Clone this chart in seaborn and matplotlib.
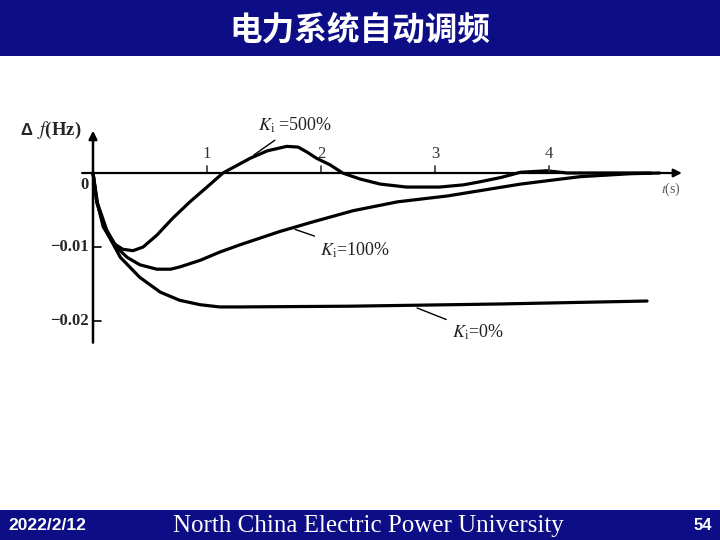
# Frequency response of power system with different integral gain Ki
import pandas as pd
import matplotlib
matplotlib.use("Agg")
import matplotlib.pyplot as plt
import seaborn as sns
from matplotlib.patches import Rectangle

# --- Data (t in s, df in Hz) ---
t_500 = [0, 0.03, 0.09, 0.18, 0.26, 0.35, 0.44, 0.56, 0.70, 0.85, 1.00, 1.14, 1.38, 1.53,
         1.70, 1.80, 1.88, 1.96, 2.08, 2.19, 2.34, 2.52, 2.75, 3.04, 3.25, 3.39, 3.58,
         3.75, 3.98, 4.16, 4.45, 4.89]
df_500 = [0, -0.0036, -0.0073, -0.0095, -0.0103, -0.0105, -0.0100, -0.0084, -0.0061,
          -0.0039, -0.0019, 0, 0.0020, 0.0030, 0.0036, 0.0035, 0.0028, 0.0020, 0.0011, 0,
          -0.0008, -0.0015, -0.0019, -0.0019, -0.0016, -0.0012, -0.0006, 0.0001, 0.0003,
          0.0000, 0, 0]

t_100 = [0, 0.04, 0.12, 0.21, 0.30, 0.41, 0.56, 0.68, 0.76, 0.94, 1.11, 1.29, 1.64, 1.93,
         2.28, 2.67, 3.11, 3.39, 3.75, 4.27, 4.71, 4.97]
df_100 = [0, -0.0041, -0.0077, -0.0101, -0.0114, -0.0124, -0.0130, -0.0130, -0.0127,
          -0.0118, -0.0107, -0.0097, -0.0079, -0.0066, -0.0051, -0.0039, -0.0031, -0.0024,
          -0.0015, -0.0005, -0.0001, 0]

t_0 = [0, 0.035, 0.12, 0.24, 0.41, 0.59, 0.76, 0.94, 1.11, 1.29, 2.25, 3.57, 4.86]
df_0 = [0, -0.0041, -0.0080, -0.0114, -0.0141, -0.0161, -0.0172, -0.0178, -0.0181,
        -0.0181, -0.0180, -0.0177, -0.0173]

x_ticks = [1, 2, 3, 4]
y_ticks = [-0.01, -0.02]
y_tick_labels = ["\u22120.01", "\u22120.02"]

curves = pd.concat([
    pd.DataFrame({"t": t_500, "df": df_500, "Ki": "500%"}),
    pd.DataFrame({"t": t_100, "df": df_100, "Ki": "100%"}),
    pd.DataFrame({"t": t_0, "df": df_0, "Ki": "0%"}),
])

sns.set_theme(style="white")
plt.rcParams["font.family"] = ["Liberation Serif", "DejaVu Sans"]
plt.rcParams["mathtext.fontset"] = "stix"

fig = plt.figure(figsize=(7.2, 5.4), dpi=100)
navy = "#0d0d86"
fig.patches.append(Rectangle((0, 1 - 56 / 540), 1, 56 / 540, transform=fig.transFigure,
                             facecolor=navy, edgecolor="none", zorder=0))
fig.patches.append(Rectangle((0, 0), 1, 30 / 540, transform=fig.transFigure,
                             facecolor=navy, edgecolor="none", zorder=0))

fig.text(0.5, 1 - 30 / 540, "电力系统自动调频", color="white", ha="center", va="center",
         fontsize=23.5, fontweight="bold", family=["Noto Sans CJK SC", "DejaVu Sans"])
fig.text(8 / 720, 14 / 540, "2022/2/12", color="white", ha="left", va="center",
         fontsize=12.5, fontweight="bold", family=["Liberation Sans Narrow", "Liberation Sans"])
fig.text(368 / 720, 14 / 540, "North China Electric Power University", color="white",
         ha="center", va="center", fontsize=18, family="Liberation Serif")
fig.text(712 / 720, 14 / 540, "54", color="white", ha="right", va="center",
         fontsize=12, fontweight="bold", family="Liberation Sans")

# axes mapped so that t=0 -> x=93px, 1 s = 114px, df=0 -> y=173px, 0.01 Hz = 74px
x0, xs, y0, ys = 93, 114, 173, 7400
xlim = (-0.2, 5.2)
ylim = (-0.0235, 0.0065)
left = x0 + xlim[0] * xs
right = x0 + xlim[1] * xs
top = y0 - ylim[1] * ys
bottom = y0 - ylim[0] * ys
ax = fig.add_axes([left / 720, 1 - bottom / 540, (right - left) / 720, (bottom - top) / 540])
ax.set_xlim(xlim)
ax.set_ylim(ylim)
ax.axis("off")

sns.lineplot(data=curves, x="t", y="df", units="Ki", estimator=None, color="black",
             linewidth=2.3, ax=ax, legend=False, solid_joinstyle="round",
             solid_capstyle="round")

# coordinate axes with arrows
ax.annotate("", xy=(5.19, 0), xytext=(-0.12, 0),
            arrowprops=dict(arrowstyle="-|>", color="black", lw=1.6, mutation_scale=12))
ax.annotate("", xy=(0, 0.0061), xytext=(0, -0.0233),
            arrowprops=dict(arrowstyle="-|>", color="black", lw=1.8, mutation_scale=12))

for xt in x_ticks:
    ax.plot([xt, xt], [0, 0.0009], color="#333333", lw=1.2)
    ax.text(xt, 0.0015, str(xt), ha="center", va="bottom", fontsize=12, color="#333333")
for yt, lab in zip(y_ticks, y_tick_labels):
    ax.plot([0, 0.07], [yt, yt], color="black", lw=1.2)
    ax.text(-0.04, yt, lab, ha="right", va="center", fontsize=12, fontweight="bold")
ax.text(-0.04, -0.0016, "0", ha="right", va="center", fontsize=12, fontweight="bold")

# y axis title: delta f (Hz)
ax.text(-0.53, 0.0057, "\u0394", ha="right", va="center", fontsize=12, fontweight="bold",
        family="Liberation Sans")
ax.text(-0.49, 0.0058, r"$f$(Hz)", ha="left", va="center", fontsize=13.5, fontweight="bold")
ax.text(5.07, -0.0022, r"$t$(s)", ha="center", va="center", fontsize=10, color="#555555")

# curve labels with leader lines
lab_style = dict(ha="left", va="center", fontsize=13, color="#222222")
leader = dict(arrowstyle="-", color="black", lw=1.0)
ax.annotate(r"$K_{\rm i}$ =500%", xy=(1.39, 0.0022), xytext=(1.45, 0.0064),
            arrowprops=leader, **lab_style)
ax.annotate(r"$K_{\rm i}$=100%", xy=(1.75, -0.0075), xytext=(1.99, -0.0104),
            arrowprops=leader, **lab_style)
ax.annotate(r"$K_{\rm i}$=0%", xy=(2.82, -0.0181), xytext=(3.15, -0.0215),
            arrowprops=leader, **lab_style)

fig.savefig("out.png", dpi=100)
